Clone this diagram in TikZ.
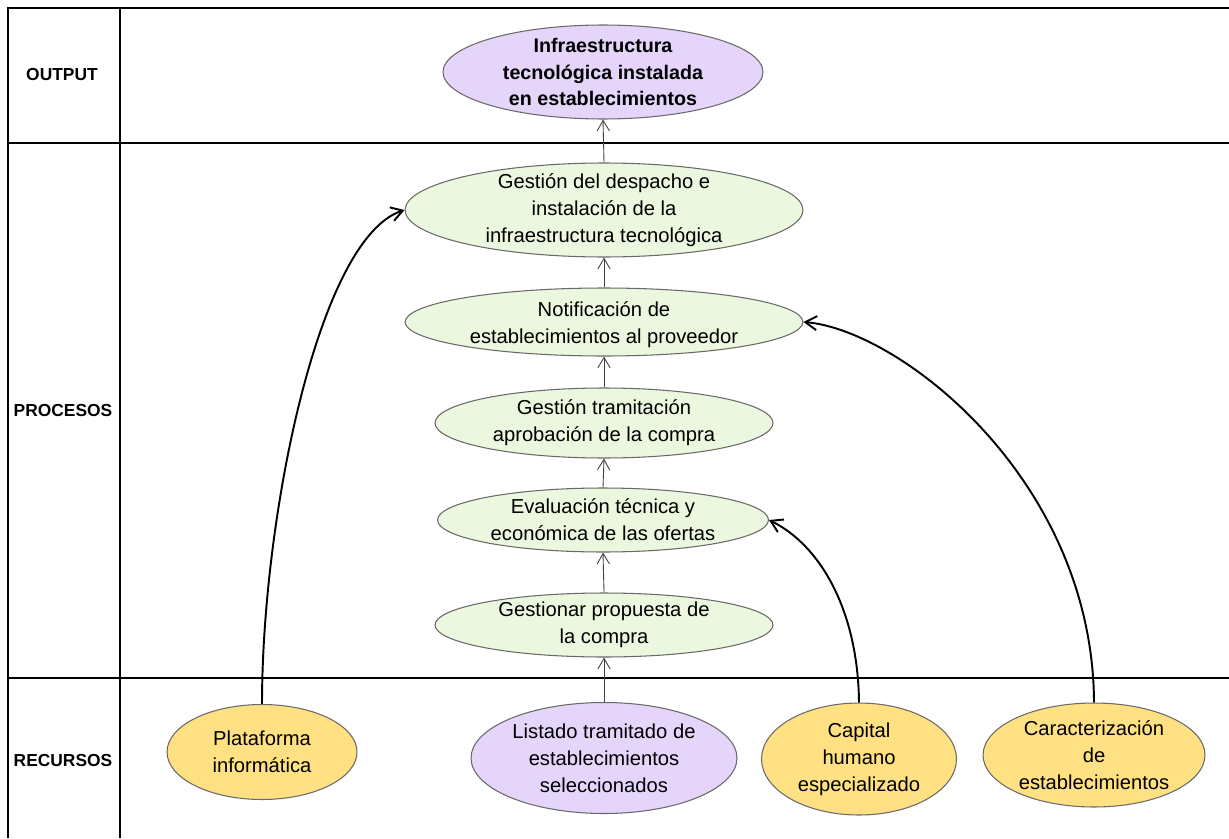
\documentclass[tikz,border=0pt]{standalone}
\usepackage{fontspec}
\setmainfont{Liberation Sans}
\usetikzlibrary{shapes.geometric,arrows.meta}

\definecolor{procfill}{RGB}{235,247,222}
\definecolor{outfill}{RGB}{229,213,250}
\definecolor{resfill}{RGB}{255,224,130}
\definecolor{rimgray}{RGB}{105,105,105}

\begin{document}
\begin{tikzpicture}[x=0.02cm,y=-0.02cm,
  grid/.style={line width=1.1pt, draw=black},
  rowlabel/.style={font=\fontsize{9.9}{12}\selectfont\bfseries},
  blob/.style={ellipse, draw=rimgray, line width=0.6pt, inner sep=0pt},
  proc/.style={blob, fill=procfill},
  outc/.style={blob, fill=outfill},
  res/.style={blob, fill=resfill},
  txt/.style={align=center, inner sep=0pt, font=\fontsize{11.5}{15.4}\selectfont},
  titletxt/.style={align=center, inner sep=0pt, font=\fontsize{11.2}{15.1}\selectfont\bfseries},
  flow/.style={draw=black!75, line width=0.5pt, -{Straight Barb[length=6pt,width=7pt]}},
  feed/.style={draw=black, line width=1.1pt, -{Straight Barb[length=6.5pt,width=8pt]}},
]
\useasboundingbox (0,0) rectangle (1229,838);

% table frame
\draw[grid] (8,838) -- (8,8) -- (1229,8);
\draw[grid] (120,8) -- (120,838);
\draw[grid] (8,143) -- (1229,143);
\draw[grid] (8,678) -- (1229,678);

% row headings
\node[rowlabel] (hout) at (62,75) {OUTPUT};
\node[rowlabel] (hproc) at (63,411) {PROCESOS};
\node[rowlabel] (hres) at (63,760) {RECURSOS};

% output
\node[outc, minimum width=6.4cm, minimum height=1.88cm] (out) at (603,72) {};
\node[titletxt] (outt) at (out) {Infraestructura\\tecnológica instalada\\en establecimientos};

% processes
\node[proc, minimum width=7.96cm, minimum height=1.88cm] (d1) at (604,210) {};
\node[txt] (d1t) at (d1) {Gestión del despacho e\\instalación de la\\infraestructura tecnológica};

\node[proc, minimum width=7.96cm, minimum height=1.36cm] (d2) at (604,322) {};
\node[txt] (d2t) at (604,325) {Notificación de\\establecimientos al proveedor};

\node[proc, minimum width=6.76cm, minimum height=1.4cm] (d3) at (604,423) {};
\node[txt] (d3t) at (d3) {Gestión tramitación\\aprobación de la compra};

\node[proc, minimum width=6.62cm, minimum height=1.28cm] (d4) at (603,520) {};
\node[txt] (d4t) at (d4) {Evaluación técnica y\\económica de las ofertas};

\node[proc, minimum width=6.76cm, minimum height=1.28cm] (d5) at (604,625) {};
\node[txt] (d5t) at (d5) {Gestionar propuesta de\\la compra};

% resources
\node[res, minimum width=3.8cm, minimum height=1.9cm] (r1) at (262,752) {};
\node[txt] (r1t) at (r1) {Plataforma\\informática};

\node[outc, minimum width=5.32cm, minimum height=2.22cm] (r2) at (604,758) {};
\node[txt] (r2t) at (r2) {Listado tramitado de\\establecimientos\\seleccionados};

\node[res, minimum width=3.9cm, minimum height=2.24cm] (r3) at (859,759) {};
\node[txt] (r3t) at (r3) {Capital\\humano\\especializado};

\node[res, minimum width=4.44cm, minimum height=2.08cm] (r4) at (1094,755) {};
\node[txt] (r4t) at (r4) {Caracterización\\de\\establecimientos};

% main process chain
\draw[flow] (r2.north) -- (d5.south);
\draw[flow] (d5.north) -- (d4.south);
\draw[flow] (d4.north) -- (d3.south);
\draw[flow] (d3.north) -- (d2.south);
\draw[flow] (d2.north) -- (d1.south);
\draw[flow] (d1.north) -- (out.south);

% resources feeding the processes
\draw[feed] (r1.north) .. controls (262,520) and (318,238) .. (d1.west);
\draw[feed] (r3.north) .. controls (858,610) and (820,545) .. (d4.east);
\draw[feed] (r4.north) .. controls (1093,480) and (900,330) .. (d2.east);
\end{tikzpicture}
\end{document}
